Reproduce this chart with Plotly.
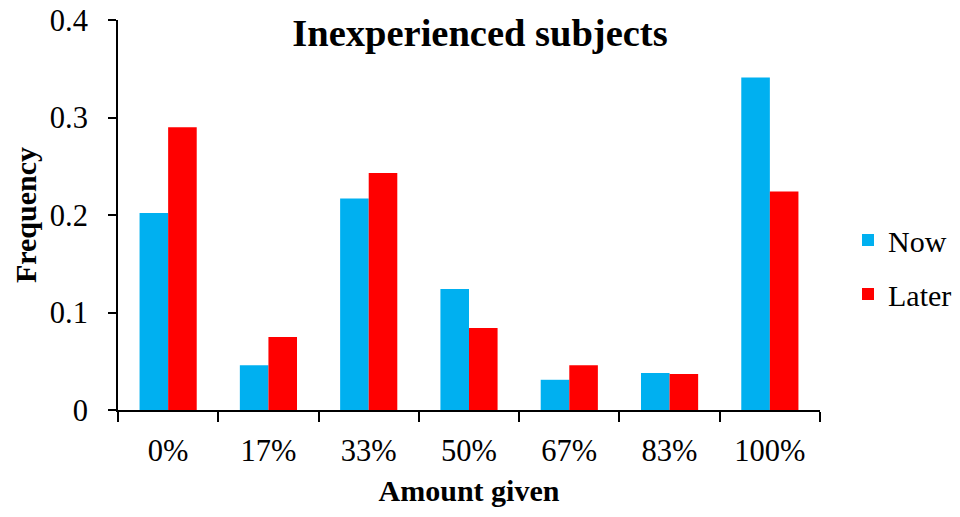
import plotly.graph_objects as go

# Share of subjects giving each amount
amounts = ["0%", "17%", "33%", "50%", "67%", "83%", "100%"]
now_freq = [0.202, 0.046, 0.217, 0.124, 0.031, 0.038, 0.341]
later_freq = [0.290, 0.075, 0.243, 0.084, 0.046, 0.037, 0.224]
y_ticks = [0, 0.1, 0.2, 0.3, 0.4]
y_labels = ["0", "0.1", "0.2", "0.3", "0.4"]

serif = "Liberation Serif"

fig = go.Figure()
fig.add_trace(go.Bar(name="Now", x=amounts, y=now_freq,
                     marker=dict(color="#00B0F0", line=dict(width=0)),
                     legendgroup="now"))
fig.add_trace(go.Bar(name="Later", x=amounts, y=later_freq,
                     marker=dict(color="#FF0000", line=dict(width=0)),
                     legendgroup="later"))

fig.update_layout(
    width=960, height=517,
    margin=dict(l=118, r=140, t=20, b=107, autoexpand=False),
    paper_bgcolor="white", plot_bgcolor="white",
    barmode="group", bargap=0.43, bargroupgap=0,
    font=dict(family=serif, size=30, color="black"),
    title=dict(text="<b>Inexperienced subjects</b>",
               font=dict(family=serif, size=38.5, color="black"),
               x=0.5, xanchor="center", y=1 - 33 / 517, yanchor="middle"),
    legend=dict(xref="container", yref="container",
                x=848 / 960, xanchor="left", y=1 - 267 / 517, yanchor="middle",
                traceorder="grouped", tracegroupgap=12,
                font=dict(family=serif, size=30, color="black"),
                bgcolor="rgba(0,0,0,0)"),
    showlegend=True,
)

fig.update_xaxes(
    showline=True, linecolor="black", linewidth=2, automargin=False,
    ticks="outside", tickson="boundaries", ticklen=10, tickwidth=2,
    tickcolor="black", showgrid=False, ticklabelstandoff=12,
    tickfont=dict(family=serif, size=30.5, color="black"),
    title=dict(text="<b>Amount given</b>", standoff=13,
               font=dict(family=serif, size=30, color="black")),
)
fig.update_yaxes(
    range=[0, 0.4], tickvals=y_ticks, ticktext=y_labels,
    showline=True, linecolor="black", linewidth=2, automargin=False,
    ticks="outside", ticklen=8, tickwidth=2, tickcolor="black",
    showgrid=False, zeroline=False, ticklabelstandoff=14,
    tickfont=dict(family=serif, size=30.5, color="black"),
    title=dict(text="<b>Frequency</b>", standoff=4,
               font=dict(family=serif, size=30, color="black")),
)

fig.write_html("out.html")
